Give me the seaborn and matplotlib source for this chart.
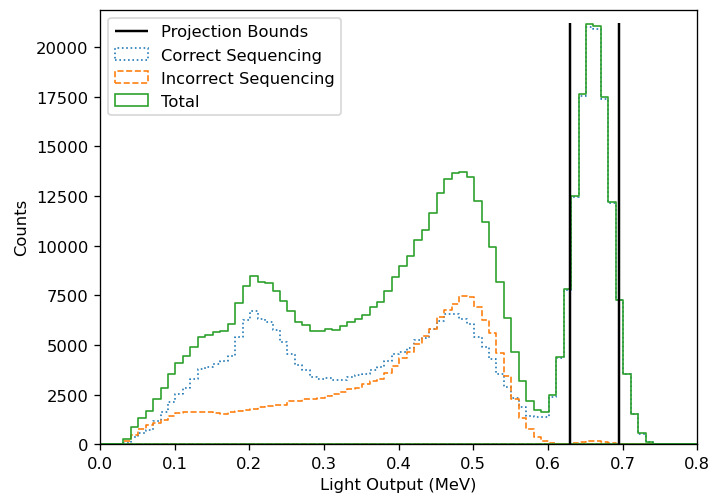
import numpy as np
import seaborn as sns
import matplotlib
matplotlib.use("Agg")
import matplotlib.pyplot as plt

# histogram binning (MeV)
bin_start = 0.001
bin_width = 0.01
n_bins = 80

# counts per bin
total = [0, 0, 0, 250, 850, 1295, 1680, 2270, 2820, 3560,
         4080, 4450, 4900, 5380, 5490, 5630, 5710, 6080, 7090, 7980,
         8470, 8150, 8100, 7730, 7190, 6720, 6170, 6020, 5680, 5680,
         5800, 5750, 5970, 6170, 6300, 6520, 6890, 7140, 7730, 8400,
         8990, 9490, 10290, 10790, 11630, 12640, 13360, 13660, 13730, 13480,
         12270, 11210, 9920, 8150, 6340, 4660, 3190, 2180, 1700, 1600,
         2490, 4370, 7800, 12520, 17650, 21180, 21090, 17510, 12190, 7260,
         3560, 1510, 540, 120, 0, 0, 0, 0, 0, 0]

incorrect = [0, 0, 0, 170, 470, 756, 975, 1090, 1210, 1430,
             1550, 1600, 1600, 1600, 1600, 1570, 1510, 1630, 1680, 1730,
             1765, 1850, 1930, 1980, 1980, 2150, 2180, 2270, 2300, 2350,
             2440, 2520, 2640, 2770, 2810, 3030, 3190, 3280, 3610, 3950,
             4360, 4650, 5040, 5460, 5800, 6390, 6770, 7060, 7450, 7400,
             6890, 6270, 5600, 4590, 3410, 2300, 1340, 756, 370, 170,
             80, 30, 10, 50, 110, 150, 150, 110, 60, 20,
             0, 0, 0, 0, 0, 0, 0, 0, 0, 0]

correct = [0, 0, 0, 80, 380, 540, 705, 1180, 1610, 2130,
           2530, 2850, 3300, 3780, 3890, 4060, 4200, 4450, 5410, 6250,
           6710, 6300, 6170, 5730, 5170, 4530, 3990, 3720, 3390, 3300,
           3330, 3210, 3250, 3360, 3510, 3560, 3740, 3870, 4200, 4530,
           4650, 4830, 5230, 5350, 5800, 6200, 6570, 6570, 6290, 6060,
           5400, 4920, 4280, 3560, 2870, 2330, 1850, 1430, 1360, 1390,
           2400, 4320, 7780, 12470, 17540, 21030, 20940, 17400, 12130, 7240,
           3550, 1505, 535, 118, 0, 0, 0, 0, 0, 0]

bounds = [0.6297, 0.6955]
bounds_top = 21240

bin_end = bin_start + bin_width * n_bins
centers = bin_start + bin_width * (np.arange(n_bins) + 0.5)

dpi = 118
fig, ax = plt.subplots(figsize=(710 / dpi, 503 / dpi), dpi=dpi)
fig.subplots_adjust(left=0.141, right=0.982, bottom=0.115, top=0.979)

ax.vlines(bounds, 0, bounds_top, colors="k", linewidth=1.5, label="Projection Bounds", zorder=3)

series = [(correct, "C0", ":", "Correct Sequencing"),
          (incorrect, "C1", "--", "Incorrect Sequencing"),
          (total, "C2", "-", "Total")]
for counts, col, ls, lab in series:
    sns.histplot(x=centers, weights=np.asarray(counts, dtype=float),
                 binwidth=bin_width, binrange=(bin_start, bin_end),
                 element="step", fill=True, color=col, facecolor="none",
                 edgecolor=col, linestyle=ls, linewidth=1, label=lab, ax=ax)

ax.set_xlim(0, 0.8)
ax.set_ylim(0, 21900)
ax.set_xlabel("Light Output (MeV)")
ax.set_ylabel("Counts")
ax.legend(loc="upper left")

fig.savefig("out.png", dpi=dpi)
